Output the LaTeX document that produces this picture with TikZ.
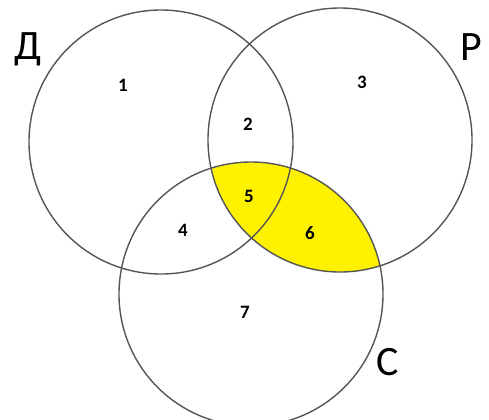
\documentclass[tikz,border=0pt]{standalone}
\usepackage{fontspec}
\setmainfont{Carlito}
\usetikzlibrary{positioning}
\definecolor{vennyellow}{RGB}{255, 242,   0}
\definecolor{venngray}  {RGB}{ 85,  85,  85}
\tikzset{
	ring/.style={draw=venngray, line width=1.4bp},
	setlabel/.style={font=\fontsize{42}{44}\selectfont, inner sep=0pt},
	partlabel/.style={font=\fontsize{19}{21}\selectfont\bfseries, inner sep=0pt}
}

\begin{document}
\begin{tikzpicture}[x=1bp, y=-1bp]
				\clip (0,0) rectangle (489,419);
				\fill[white] (0,0) rectangle (489,419);
				\coordinate (D) at (161,142);
				\coordinate (R) at (340,140);
				\coordinate (S) at (251,294);
				% P and C together
				\begin{scope}
					\clip (R) circle (132bp);
					\fill[vennyellow] (S) circle (132bp);
				\end{scope}
				\foreach \c in {D,R,S}{\draw[ring] (\c) circle (132bp);}
				\node[setlabel] (labD) at (28,49) {Д};
				\node[setlabel] (labR) at (471,47) {Р};
				\node[setlabel] (labS) at (388,362) {С};
				\node[partlabel] (p1) at (123,85) {1};
				\node[partlabel] (p2) at (248,124) {2};
				\node[partlabel] (p3) at (362,82) {3};
				\node[partlabel] (p4) at (183,230) {4};
				\node[partlabel] (p5) at (249,196) {5};
				\node[partlabel] (p6) at (310,233) {6};
				\node[partlabel] (p7) at (245,312) {7};
			\end{tikzpicture}
\end{document}
